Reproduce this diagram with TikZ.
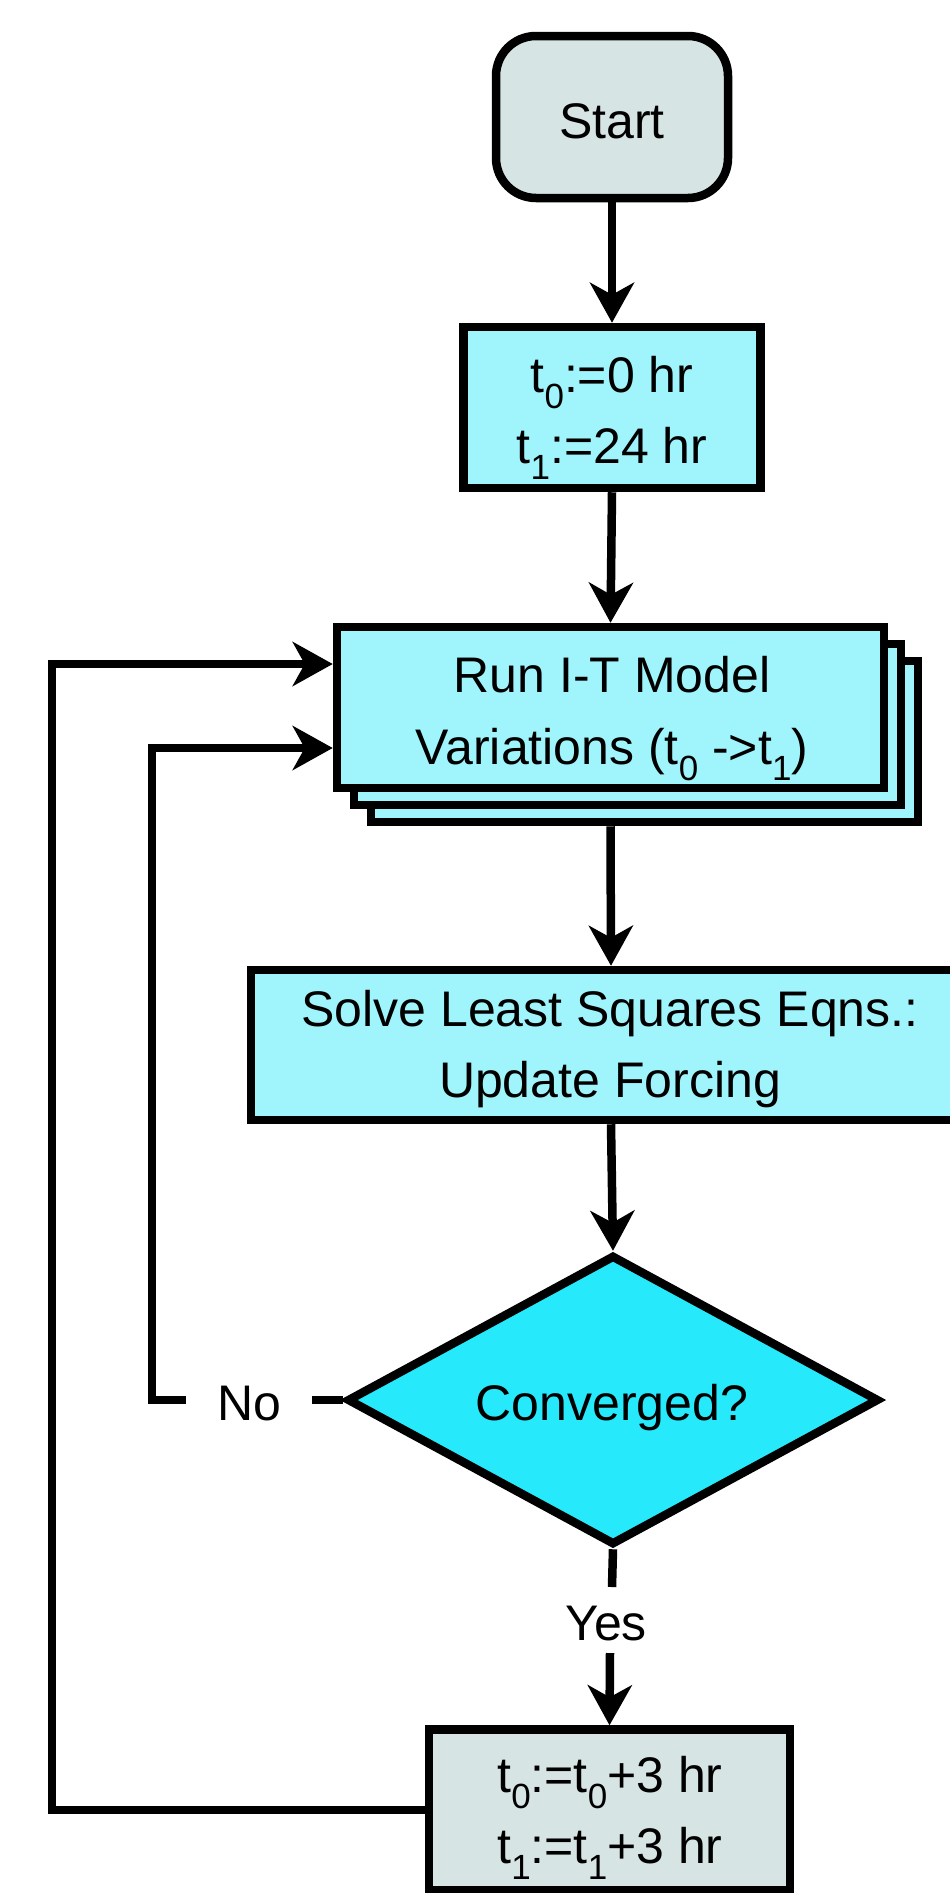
\documentclass[tikz,border=0pt]{standalone}
\usepackage{fontspec}
\setmainfont{Liberation Sans}
\usetikzlibrary{shapes.geometric,arrows.meta}
\definecolor{boxcyan}{RGB}{160,245,252}
\definecolor{diacyan}{RGB}{38,234,252}
\definecolor{boxgray}{RGB}{214,228,228}
\newcommand\sbs[1]{\raisebox{-16pt}{\fontsize{35}{35}\selectfont #1}}
\begin{document}
\begin{tikzpicture}[x=1pt,y=-1pt,line width=8.5pt,line join=miter,
  every node/.style={font=\fontsize{50}{71}\selectfont,text=black},
  box/.style={draw,rectangle,fill=boxcyan,inner sep=0pt},
  txt/.style={anchor=base,inner sep=0pt},
  flow/.style={-{Stealth[length=40pt,width=44pt,inset=12pt]}}]
\useasboundingbox (0,0) rectangle (950,1893);
\clip (0,0) rectangle (950,1893);
% boxes
\node[box,fill=boxgray,rounded corners=40pt,minimum width=232pt,minimum height=162pt] (start) at (612,117) {};
\node[box,minimum width=297pt,minimum height=161pt] (init) at (612,407.5) {};
\node[box,minimum width=547pt,minimum height=161pt] (run3) at (644.5,741.5) {};
\node[box,minimum width=547pt,minimum height=161pt] (run2) at (627.5,724.5) {};
\node[box,minimum width=547pt,minimum height=161pt] (run) at (610.5,707.5) {};
\node[box,minimum width=720pt,minimum height=150pt] (solve) at (611,1045) {};
\node[draw,diamond,aspect=1.834,fill=diacyan,minimum width=532pt,minimum height=290pt,inner sep=0pt] (conv) at (613,1400) {};
\node[box,fill=boxgray,minimum width=361pt,minimum height=161pt] (bot) at (609.5,1810) {};
% texts
\node[txt] (startT) at (612,138) {Start};
\node[txt] (initA) at (612,392) {t\sbs{0}:=0 hr};
\node[txt] (initB) at (612,463) {t\sbs{1}:=24 hr};
\node[txt] (runA) at (612,692) {Run I-T Model};
\node[txt] (runB) at (612,764) {Variations (t\sbs{0} ->t\sbs{1})};
\node[txt] (solveA) at (610,1026) {Solve Least Squares Eqns.:};
\node[txt] (solveB) at (610,1097) {Update Forcing};
\node[txt] (convT) at (612,1420) {Converged?};
\node[txt] (botA) at (610,1792) {t\sbs{0}:=t\sbs{0}+3 hr};
\node[txt] (botB) at (610,1863) {t\sbs{1}:=t\sbs{1}+3 hr};
\node[anchor=base,inner xsep=27pt,inner ysep=0pt] (no) at (249,1420) {No};
\node[txt] (yes) at (606,1640) {Yes};
% connectors
\draw[flow] (start.south) -- (init.north);
\draw[flow] (init.south) -- (run.north);
\draw[flow] (run.south |- run3.south) -- (solve.north);
\draw[flow] (solve.south) -- (conv.north);
\draw (conv.west) -- (conv.west -| no.east);
\coordinate (noturn) at (152,748);
\draw[flow] (no.west |- conv.west) -| (noturn) -- (noturn -| run.west);
\coordinate (yesa) at (612,1587);
\coordinate (yesb) at (610,1653);
\draw (conv.south) -- (yesa);
\draw[flow] (yesb) -- (bot.north);
\coordinate (bigturn) at (52,664);
\draw[flow] (bot.west) -| (bigturn) -- (bigturn -| run.west);
\end{tikzpicture}
\end{document}
